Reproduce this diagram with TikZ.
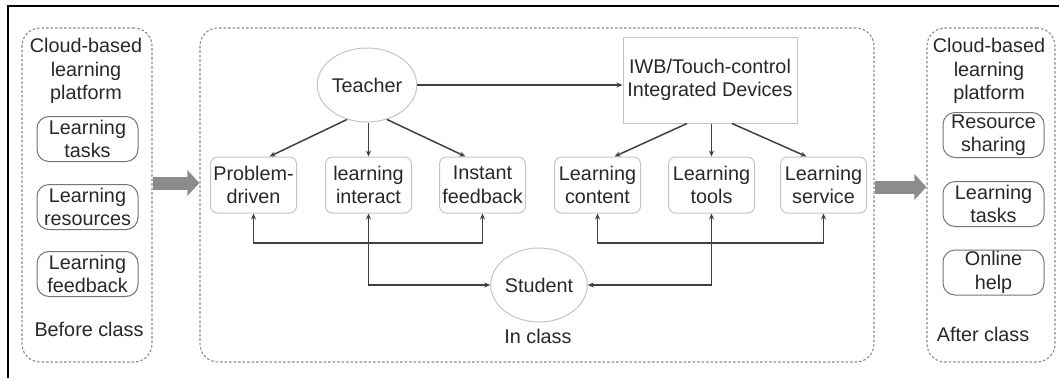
\documentclass[tikz,border=0pt]{standalone}
\usepackage{fontspec}
\setmainfont{Liberation Sans}
\usetikzlibrary{arrows.meta,shapes.geometric}

\definecolor{txt}{HTML}{282828}
\definecolor{wire}{HTML}{404040}
\definecolor{softedge}{HTML}{C4C4C4}
\definecolor{sideedge}{HTML}{757575}
\definecolor{panelgray}{HTML}{8A8A8A}
\definecolor{bigarrowgray}{HTML}{8C8C8C}

\tikzset{
  label text/.style={text=txt, font=\fontsize{19.8}{23.5}\selectfont, align=center, inner sep=0pt},
  panel/.style={draw=panelgray, dash pattern=on 2.5pt off 2pt, line width=1.1pt,
    rounded corners=18pt, minimum height=334pt, inner sep=0pt},
  stagebox/.style={label text, draw=softedge, line width=1pt, rounded corners=7pt,
    minimum width=86pt, minimum height=56pt},
  sidebox/.style={label text, draw=sideedge, line width=1pt, rounded corners=12pt,
    minimum width=101pt, minimum height=45pt},
  roleellipse/.style={label text, draw=softedge, line width=1pt, ellipse,
    minimum width=86pt, minimum height=74pt},
  conn/.style={draw=wire, line width=1.5pt, -{Stealth[length=6pt,width=5pt]}},
  twoway/.style={draw=wire, line width=1.5pt, {Stealth[length=6pt,width=5pt]}-{Stealth[length=6pt,width=5pt]}},
  bigarrow/.style={draw=bigarrowgray, line width=13pt, -{Triangle[length=12pt,width=25pt]}},
}

\begin{document}
\begin{tikzpicture}[x=1pt,y=-1pt]
\useasboundingbox (0,0) rectangle (1059,378);

% frame edges
\draw[line width=2pt] (8,378) -- (8,6) -- (1059,6);

% three stages
\node[panel, minimum width=130pt] (before) at (87,195) {};
\node[panel, minimum width=674pt] (inclass) at (537,195) {};
\node[panel, minimum width=128pt] (after) at (991,195) {};

% before class
\node[label text] (cloudL) at (86,71) {Cloud-based\\learning\\platform};
\node[sidebox] (tasksL) at (87.5,139) {Learning\\tasks};
\node[sidebox] (resL) at (87.5,207) {Learning\\resources};
\node[sidebox] (fbL) at (87.5,274) {Learning\\feedback};
\node[label text] (beforelbl) at (89,329) {Before class};

% in class
\node[roleellipse] (teacher) at (367,85) {Teacher};
\node[label text, draw=softedge, line width=1pt, minimum width=174pt, minimum height=86pt]
  (iwb) at (710,80) {IWB/Touch-control\\Integrated Devices};

\node[stagebox] (pd) at (253.5,185) {Problem-\\driven};
\node[stagebox] (li) at (368.5,185) {learning\\interact};
\node[stagebox] (ifb) at (482.5,185) {Instant\\feedback};
\node[stagebox] (lc) at (597.5,185) {Learning\\content};
\node[stagebox] (lt) at (711.5,185) {Learning\\tools};
\node[stagebox] (ls) at (823.5,185) {Learning\\service};

\node[roleellipse, minimum width=84pt] (student) at (539,285) {Student};
\node[label text] (inlbl) at (538,336) {In class};

% after class
\node[label text] (cloudR) at (989,71) {Cloud-based\\learning\\platform};
\node[sidebox] (shareR) at (993.5,135) {Resource\\sharing};
\node[sidebox] (tasksR) at (993.5,204) {Learning\\tasks};
\node[sidebox] (helpR) at (993.5,272.5) {Online\\help};
\node[label text] (afterlbl) at (983,334) {After class};

% teacher and devices
\draw[conn] (teacher.east) -- (teacher.east -| iwb.west);
\draw[conn] (teacher.240) -- ([xshift=16pt]pd.north);
\draw[conn] (li.north |- teacher.south) -- (li.north);
\draw[conn] (teacher.300) -- ([xshift=-17pt]ifb.north);
\draw[conn] ([xshift=-23pt]iwb.south) -- ([xshift=17pt]lc.north);
\draw[conn] (lt.north |- iwb.south) -- (lt.north);
\draw[conn] ([xshift=22pt]iwb.south) -- ([xshift=-17pt]ls.north);

% student links
\coordinate (bar) at (0,243);
\draw[twoway] (pd.south) -- (pd.south |- bar) -- (ifb.south |- bar) -- (ifb.south);
\draw[twoway] (lc.south) -- (lc.south |- bar) -- (ls.south |- bar) -- (ls.south);
\draw[twoway] (li.south) -- (li.south |- student.west) -- (student.west);
\draw[twoway] (lt.south) -- (lt.south |- student.east) -- (student.east);

% stage transitions
\coordinate (flowL) at (0,183);
\coordinate (flowR) at (0,187);
\draw[bigarrow] (before.east |- flowL) -- (inclass.west |- flowL);
\draw[bigarrow] (inclass.east |- flowR) -- (after.west |- flowR);
\end{tikzpicture}
\end{document}
